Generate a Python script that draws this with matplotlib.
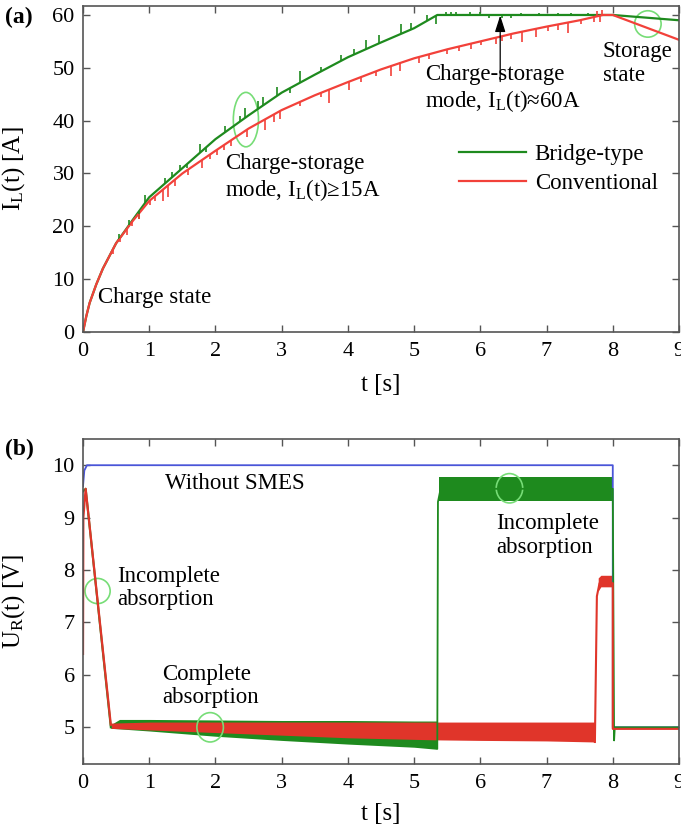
import matplotlib
matplotlib.use("Agg")
import matplotlib.pyplot as plt
import numpy as np
from matplotlib.patches import Ellipse

plt.rcParams['font.family'] = ['Liberation Serif', 'DejaVu Serif']
plt.rcParams['mathtext.fontset'] = 'custom'
plt.rcParams['mathtext.rm'] = 'Liberation Serif'
plt.rcParams['mathtext.it'] = 'Liberation Serif:italic'

# ---------------- Panel (a): inductor current ----------------
t_conv = [0, 0.05, 0.1, 0.2, 0.3, 0.5, 0.75, 1.0, 1.5, 2.0, 2.5, 3.0, 3.5, 4.0,
          4.5, 5.0, 5.5, 6.0, 6.5, 7.0, 7.5, 7.85, 8.0, 9.0]
i_conv = [0, 3.0, 5.5, 9.0, 12.0, 16.8, 21.0, 24.8, 30.0, 34.3, 38.5, 42.0,
          44.8, 47.3, 49.7, 51.8, 53.5, 55.0, 56.5, 57.8, 59.0, 60.0, 60.0, 55.3]
t_bridge = [0, 0.05, 0.1, 0.2, 0.3, 0.5, 0.75, 1.0, 1.5, 2.0, 2.5, 3.0, 3.5,
            4.0, 4.5, 5.0, 5.35, 8.0, 9.0]
i_bridge = [0, 3.0, 5.5, 9.0, 12.0, 16.8, 21.2, 25.5, 31.0, 36.5, 41.0, 45.3,
            48.7, 52.0, 54.8, 57.5, 60.0, 60.0, 59.0]

# spikes (time, signed length in A)
g_spk_t = [0.55, 0.70, 0.85, 0.94, 1.24, 1.34, 1.47, 1.57, 1.77, 1.86, 2.15,
           2.37, 2.45, 2.65, 2.72, 2.93, 3.13, 3.28, 3.59, 3.89, 4.09, 4.27,
           4.47, 4.80, 4.95, 5.20, 5.33, 5.48, 5.55, 5.63, 5.85, 6.00, 6.13,
           6.33, 6.46, 6.61, 6.89, 7.17, 7.37, 7.62]
g_spk_l = [0.8, 0.8, -1.5, 1.5, 1.0, 1.0, 1.0, -0.8, 1.6, -0.8, 1.2,
           1.0, 1.8, 1.5, 1.5, 1.6, -1.0, 2.2, 0.8, 1.2, 1.0, 1.8,
           1.6, 1.8, 1.2, 1.0, -1.5, 0.5, 0.5, 0.5, 0.5, 0.5, -0.6,
           -0.5, -0.5, 0.4, 0.4, 0.4, 0.4, 0.4]
r_spk_t = [0.46, 0.56, 0.66, 0.74, 0.84, 1.01, 1.09, 1.21, 1.29, 1.39, 1.59,
           1.80, 1.92, 2.03, 2.13, 2.23, 2.48, 2.75, 2.88, 2.97, 3.28, 3.60,
           3.72, 4.02, 4.20, 4.42, 4.65, 4.78, 5.08, 5.23, 5.50, 5.68, 5.86,
           6.01, 6.23, 6.33, 6.46, 6.63, 6.84, 7.02, 7.17, 7.32, 7.52, 7.72,
           7.76, 7.80, 7.84]
r_spk_l = [-1.0, -0.8, -1.2, -0.8, -1.0, -0.8, -1.0, -2.2, -2.2, -1.2, -1.0,
           -1.5, -0.8, -1.0, -1.0, -1.0, -1.5, -2.0, -1.5, -1.5, -0.8, -0.8,
           -2.5, -1.5, -1.0, -0.8, -1.8, -1.5, -1.2, -1.0, -0.8, -0.8, -1.0,
           -0.8, -1.2, -1.0, -1.0, -2.0, -1.6, -0.8, -1.0, -2.0, -0.8, -1.0,
           1.0, -1.2, 1.0]

# ---------------- Panel (b): load voltage ----------------
t_blue = [0, 0.02, 0.06, 8.0, 8.0, 9.0]
u_blue = [9.6, 9.9, 10.0, 10.0, 5.0, 5.0]

t_red_start = [0, 0.005, 0.04, 0.42]
u_red_start = [6.4, 9.0, 9.55, 5.05]
t_red_band = [0.42, 1.0, 2.0, 3.0, 4.0, 5.0, 5.35, 6.0, 7.0, 7.73]
u_red_up = [5.08, 5.10, 5.10, 5.10, 5.10, 5.10, 5.10, 5.10, 5.10, 5.10]
u_red_lo = [4.98, 4.95, 4.90, 4.85, 4.80, 4.77, 4.76, 4.75, 4.74, 4.72]
t_red_hi = [7.78, 7.82, 8.0]
u_red_hi_up = [7.85, 7.90, 7.90]
u_red_hi_lo = [7.60, 7.68, 7.68]
t_red_edge = [7.73, 7.76, 7.80, 8.0, 8.0, 9.0]
u_red_edge = [4.72, 7.5, 7.75, 7.75, 4.97, 4.97]

t_grn_start = [0, 0.04, 0.42]
u_grn_start = [9.5, 9.55, 5.0]
t_grn_band = [0.42, 0.55, 1.0, 2.0, 3.0, 4.0, 5.0, 5.35]
u_grn_up = [5.05, 5.15, 5.15, 5.14, 5.13, 5.13, 5.12, 5.12]
u_grn_lo = [4.98, 4.97, 4.93, 4.83, 4.75, 4.68, 4.62, 4.58]
t_grn_hi = [5.38, 8.0]
u_grn_hi_up = [9.78, 9.78]
u_grn_hi_lo = [9.32, 9.32]
t_grn_edge = [5.35, 5.36, 5.40, 8.0, 8.02, 8.03, 9.0]
u_grn_edge = [4.6, 9.3, 9.55, 9.55, 4.75, 5.0, 5.0]

GREEN = '#1e8a1e'
RED_L = '#f2413a'
RED_B = '#e0352a'
BLUE = '#4a55d8'
ELL = '#77dd77'
SPINE = '#555555'

fig = plt.figure(figsize=(6.81, 8.34), dpi=100)
axA = fig.add_axes([83/681, 1-332/834, 596/681, 326/834])
axB = fig.add_axes([83/681, 1-764/834, 596/681, 325/834])

FS = 16.5
TFS = 16
LFS = 18
LS = 1.15


def style(ax):
    for s in ax.spines.values():
        s.set_color(SPINE)
        s.set_linewidth(1.2)
    ax.tick_params(direction='in', top=True, right=True, length=5,
                   width=1.0, color=SPINE, labelsize=TFS)
    ax.tick_params(axis='x', pad=7)
    ax.tick_params(axis='y', pad=6)


# ---- panel a ----
axA.plot(t_bridge, i_bridge, color=GREEN, lw=1.6, label='Bridge-type')
axA.plot(t_conv, i_conv, color=RED_L, lw=1.6, label='Conventional')
gb = np.interp(g_spk_t, t_bridge, i_bridge)
axA.vlines(g_spk_t, gb, gb + np.array(g_spk_l), color=GREEN, lw=1.2)
rb = np.interp(r_spk_t, t_conv, i_conv)
axA.vlines(r_spk_t, rb, rb + np.array(r_spk_l), color=RED_L, lw=1.2)

axA.set_xlim(0, 9)
axA.set_ylim(0, 61.7)
axA.set_xticks(range(10))
axA.set_yticks(range(0, 61, 10))
style(axA)
axA.set_xlabel('t [s]', fontsize=LFS)
axA.xaxis.set_label_coords(0.5, -0.13)
axA.set_ylabel(r'I$_\mathregular{L}$(t) [A]', fontsize=LFS)
axA.yaxis.set_label_coords(-0.094, 0.5)

axA.add_patch(Ellipse((2.46, 40.2), 0.38, 10.3, fill=False, ec=ELL, lw=1.2))
axA.add_patch(Ellipse((8.53, 58.3), 0.40, 5.0, fill=False, ec=ELL, lw=1.2))
axA.annotate('', xy=(6.3, 59.9), xytext=(6.3, 47.4),
             arrowprops=dict(arrowstyle='-|>,head_length=1.0,head_width=0.32',
                             color='black', lw=0.9, shrinkA=0, shrinkB=0))

axA.text(0.23, 6.5, 'Charge state', fontsize=FS, va='center', ha='left')
axA.text(2.15, 29.2, 'Charge-storage\nmode, I$_\\mathregular{L}$(t)≥15A',
         fontsize=FS, va='center', ha='left', linespacing=LS)
axA.text(5.16, 46.0, 'Charge-storage\nmode, I$_\\mathregular{L}$(t)≈60A',
         fontsize=FS, va='center', ha='left', linespacing=LS)
axA.text(7.85, 50.8, 'Storage\nstate', fontsize=FS, va='center', ha='left',
         linespacing=LS)

axA.legend(loc='upper left', bbox_to_anchor=(0.631, 0.578), frameon=False,
           fontsize=FS, handlelength=2.9, handletextpad=0.4,
           labelspacing=0.35, borderpad=0, borderaxespad=0)

# ---- panel b ----
axB.plot(t_blue, u_blue, color=BLUE, lw=1.3)
axB.plot(t_grn_start, u_grn_start, color=GREEN, lw=1.5)
axB.fill_between(t_grn_band, u_grn_lo, u_grn_up, color=GREEN, lw=0)
axB.fill_between(t_grn_hi, u_grn_hi_lo, u_grn_hi_up, color=GREEN, lw=0)
axB.plot(t_grn_edge, u_grn_edge, color=GREEN, lw=1.3)
axB.plot(t_red_start, u_red_start, color=RED_B, lw=1.6)
axB.fill_between(t_red_band, u_red_lo, u_red_up, color=RED_B, lw=0)
axB.fill_between(t_red_hi, u_red_hi_lo, u_red_hi_up, color=RED_B, lw=0)
axB.plot(t_red_edge, u_red_edge, color=RED_B, lw=1.5)

axB.set_xlim(0, 9)
axB.set_ylim(4.3, 10.5)
axB.set_xticks(range(10))
axB.set_yticks(range(5, 11))
style(axB)
axB.set_xlabel('t [s]', fontsize=LFS)
axB.xaxis.set_label_coords(0.5, -0.12)
axB.set_ylabel(r'U$_\mathregular{R}$(t) [V]', fontsize=LFS)
axB.yaxis.set_label_coords(-0.094, 0.5)

axB.add_patch(Ellipse((0.22, 7.6), 0.38, 0.48, fill=False, ec=ELL, lw=1.2))
axB.add_patch(Ellipse((1.92, 5.0), 0.40, 0.56, fill=False, ec=ELL, lw=1.2))
axB.add_patch(Ellipse((6.44, 9.56), 0.40, 0.56, fill=False, ec=ELL, lw=1.2))

axB.text(1.24, 9.66, 'Without SMES', fontsize=FS, va='center', ha='left')
axB.text(0.52, 7.66, 'Incomplete\nabsorption', fontsize=FS, va='center',
         ha='left', linespacing=LS)
axB.text(1.19, 5.79, 'Complete\nabsorption', fontsize=FS, va='center',
         ha='left', linespacing=LS)
axB.text(6.24, 8.66, 'Incomplete\nabsorption', fontsize=FS, va='center',
         ha='left', linespacing=LS)

fig.text(5/681, 1-17/834, '(a)', fontsize=17, fontweight='bold',
         va='center', ha='left')
fig.text(5/681, 1-449/834, '(b)', fontsize=17, fontweight='bold',
         va='center', ha='left')

fig.savefig('out.png', dpi=100)
